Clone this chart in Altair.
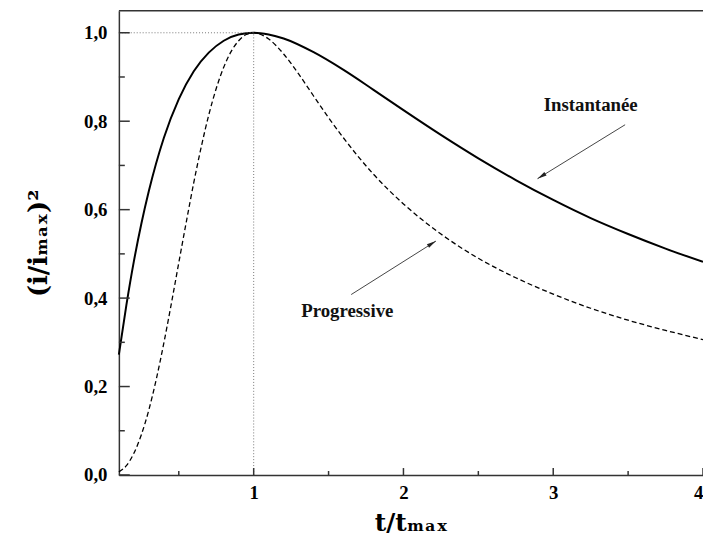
import altair as alt
import pandas as pd

# ---- data ----
t_inst = [0.1, 0.15, 0.2, 0.25, 0.3, 0.4, 0.5, 0.6, 0.7, 0.8, 0.9, 1.0, 1.1, 1.2,
          1.4, 1.6, 1.8, 2.0, 2.25, 2.5, 2.75, 3.0, 3.25, 3.5, 3.75, 4.0]
inst = [0.272, 0.384, 0.483, 0.568, 0.642, 0.762, 0.850, 0.913, 0.955, 0.982, 0.996,
        1.000, 0.996, 0.987, 0.956, 0.916, 0.871, 0.825, 0.769, 0.716, 0.667, 0.622,
        0.581, 0.545, 0.512, 0.482]

t_prog = [0.1, 0.15, 0.2, 0.25, 0.3, 0.35, 0.4, 0.45, 0.5, 0.55, 0.6, 0.65, 0.7, 0.75,
          0.8, 0.85, 0.9, 0.95, 1.0, 1.1, 1.2, 1.3, 1.4, 1.5, 1.6, 1.8, 2.0, 2.25, 2.5,
          2.75, 3.0, 3.25, 3.5, 3.75, 4.0]
prog = [0.007, 0.021, 0.049, 0.091, 0.147, 0.217, 0.298, 0.387, 0.480, 0.572, 0.661,
        0.742, 0.814, 0.874, 0.922, 0.958, 0.982, 0.996, 1.000, 0.986, 0.952, 0.907,
        0.857, 0.808, 0.762, 0.680, 0.613, 0.545, 0.490, 0.446, 0.409, 0.377, 0.350,
        0.327, 0.306]

x_major = [1, 2, 3, 4]
x_minor = [0.5, 1.5, 2.5, 3.5]
y_major = [0.0, 0.2, 0.4, 0.6, 0.8, 1.0]
y_minor = [0.1, 0.3, 0.5, 0.7, 0.9]

labels = ["Instantanée", "Progressive"]
label_t = [3.25, 1.625]
label_y = [0.837, 0.371]
arrow_t0 = [3.48, 1.651]
arrow_y0 = [0.792, 0.408]
arrow_t1 = [2.895, 2.217]
arrow_y1 = [0.670, 0.529]
arrow_angle = [238, 58]

# ---- chart ----
W, H = 590, 469
FONT = "Liberation Serif"
TFONT = "DejaVu Serif"
xs = alt.Scale(domain=[0.1, 4.0], nice=False, zero=False)
ys = alt.Scale(domain=[0, 1.05], nice=False)

df_i = pd.DataFrame({"t": t_inst, "v": inst})
df_p = pd.DataFrame({"t": t_prog, "v": prog})

x_axis = alt.Axis(values=x_major, format="d", ticks=False, tickSize=0, grid=False,
                  labelPadding=9, labelFont=FONT, labelFontSize=19, labelFontWeight="bold",
                  labelColor="black", domainColor="#333", domainWidth=1.5,
                  title="t/tₘₐₓ", titleFont=TFONT, titleFontSize=25, titleFontWeight="bold",
                  titleColor="black", titlePadding=8)
y_axis = alt.Axis(values=y_major, ticks=False, tickSize=0, grid=False,
                  labelExpr="replace(format(datum.value, '.1f'), '.', ',')",
                  labelPadding=12, labelFont=FONT, labelFontSize=19, labelFontWeight="bold",
                  labelColor="black", domainColor="#333", domainWidth=1.5,
                  title="(i/iₘₐₓ)²", titleFont=TFONT, titleFontSize=26, titleFontWeight="bold",
                  titleColor="black", titlePadding=32)


def X(field):
    return alt.X(field, scale=xs, axis=x_axis)


def Y(field):
    return alt.Y(field, scale=ys, axis=y_axis)


inst_line = alt.Chart(df_i).mark_line(color="black", strokeWidth=2, interpolate="monotone").encode(
    x=X("t:Q"), y=Y("v:Q"))
prog_line = alt.Chart(df_p).mark_line(color="black", strokeWidth=1.3, strokeDash=[5, 3],
                                      interpolate="monotone").encode(
    x=X("t:Q"), y=Y("v:Q"))

guide_h = alt.Chart(pd.DataFrame({"a": [0.1], "b": [1.0], "y": [1.0]})).mark_rule(
    color="#777", strokeWidth=1, strokeDash=[1, 2]).encode(
    x=X("a:Q"), x2="b:Q", y=Y("y:Q"))
guide_v = alt.Chart(pd.DataFrame({"x": [1.0], "a": [0.0], "b": [1.0]})).mark_rule(
    color="#777", strokeWidth=1, strokeDash=[1, 2]).encode(
    x=X("x:Q"), y=Y("a:Q"), y2="b:Q")

top_border = alt.Chart(pd.DataFrame({"a": [0]})).mark_rule(color="#333", strokeWidth=1.5).encode(
    x=alt.value(0), x2=alt.value(W), y=alt.value(0))

xt_major = alt.Chart(pd.DataFrame({"x": x_major})).mark_rule(color="#333", strokeWidth=1.5).encode(
    x=X("x:Q"), y=alt.value(H), y2=alt.value(H - 7))
xt_minor = alt.Chart(pd.DataFrame({"x": x_minor})).mark_rule(color="#333", strokeWidth=1.5).encode(
    x=X("x:Q"), y=alt.value(H), y2=alt.value(H - 4))
yt_major = alt.Chart(pd.DataFrame({"y": y_major})).mark_rule(color="#333", strokeWidth=1.5).encode(
    y=Y("y:Q"), x=alt.value(0), x2=alt.value(11))
yt_minor = alt.Chart(pd.DataFrame({"y": y_minor})).mark_rule(color="#333", strokeWidth=1.5).encode(
    y=Y("y:Q"), x=alt.value(0), x2=alt.value(6))

df_ann = pd.DataFrame({"label": labels, "lt": label_t, "ly": label_y,
                       "t0": arrow_t0, "y0": arrow_y0, "t1": arrow_t1, "y1": arrow_y1,
                       "ang": arrow_angle})
ann_text = alt.Chart(df_ann).mark_text(font=FONT, fontSize=19, fontWeight="bold",
                                       color="#111").encode(
    x=X("lt:Q"), y=Y("ly:Q"), text="label:N")
ann_rule = alt.Chart(df_ann).mark_rule(color="#444", strokeWidth=1).encode(
    x=X("t0:Q"), y=Y("y0:Q"), x2="t1:Q", y2="y1:Q")
ann_head = alt.Chart(df_ann).mark_point(shape="M0,0L0.45,2L-0.45,2Z", filled=True,
                                        size=90, color="#222", opacity=1).encode(
    x=X("t1:Q"), y=Y("y1:Q"), angle=alt.Angle("ang:Q", scale=None))

chart = alt.layer(
    inst_line, prog_line, guide_h, guide_v, top_border,
    xt_major, xt_minor, yt_major, yt_minor, ann_rule, ann_head, ann_text,
).properties(
    width=W, height=H,
    padding={"left": 112, "top": 0, "right": 0, "bottom": 64},
    autosize=alt.AutoSizeParams(type="none"),
    background="white",
).configure_view(stroke=None)

chart.save("out.html", embed_options={"renderer": "svg", "actions": False})
